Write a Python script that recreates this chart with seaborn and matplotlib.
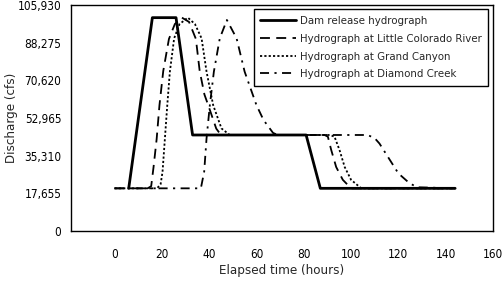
import matplotlib
matplotlib.use("Agg")
import matplotlib.pyplot as plt
import seaborn as sns
import pandas as pd

# ---- data (hours, cfs) ----
dam_t = [6, 16, 26, 33, 81, 87, 144]
dam_q = [20000, 100000, 100000, 45000, 45000, 20000, 20000]

lcr_t = [0, 14, 15.5, 16.5, 17.8, 19, 20.6, 23, 25.5, 28.5, 31.5, 34.4, 36, 38, 39.6, 43, 45,
         88.8, 90.2, 91.6, 93.7, 96.5, 100, 144]
lcr_q = [20000, 20000, 21000, 30000, 43000, 59000, 75000, 90000, 97000, 100000, 98000, 90000,
         75000, 64000, 59000, 48000, 45000,
         45000, 44200, 38000, 30000, 24000, 20000, 20000]

gc_t = [0, 18, 19.5, 20.3, 21.3, 22.3, 23.4, 25.2, 27.5, 31, 34, 36.8, 38.9, 41.7, 45.2, 48.7,
        91, 93, 95.1, 97.3, 100, 104.3, 144]
gc_q = [20000, 20000, 22000, 27800, 43400, 59000, 74700, 90300, 97000, 100000, 97000, 90300,
        74700, 59000, 48100, 45000,
        45000, 44200, 38000, 30000, 24000, 20000, 20000]

dc_t = [0, 36.5, 37.9, 38.9, 40.3, 42, 44.5, 47.5, 51.6, 55, 60, 63, 67, 69,
        107, 110, 112, 116, 120, 124.7, 128, 144]
dc_q = [20000, 20000, 27800, 43400, 59000, 74700, 90300, 98900, 90300, 74700, 59000, 52000,
        46000, 45000,
        45000, 43500, 41000, 34000, 27000, 22400, 20500, 20000]

labels = ["Dam release hydrograph", "Hydrograph at Little Colorado River",
          "Hydrograph at Grand Canyon", "Hydrograph at Diamond Creek"]

x_ticks = [0, 20, 40, 60, 80, 100, 120, 140, 160]
y_ticks = [0, 17655, 35310, 52965, 70620, 88275, 105930]
y_ticklabels = ["0", "17,655", "35,310", "52,965", "70,620", "88,275", "105,930"]

# ---- style ----
sns.set_style("white")
plt.rcParams["font.family"] = ["Liberation Sans Narrow", "DejaVu Sans"]
plt.rcParams["font.stretch"] = "condensed"

fig = plt.figure(figsize=(5.04, 2.84), dpi=100)
ax = fig.add_axes([71 / 504, 1 - 231 / 284, 422 / 504, 226 / 284])

series = [(dam_t, dam_q), (lcr_t, lcr_q), (gc_t, gc_q), (dc_t, dc_q)]
styles = [dict(linewidth=2.0, linestyle="-"),
          dict(linewidth=1.3, linestyle=(0, (5.5, 3.5))),
          dict(linewidth=1.3, linestyle=(0, (1.2, 1.2))),
          dict(linewidth=1.3, linestyle=(0, (5, 3, 1.2, 3)))]

for (t, q), lab, st in zip(series, labels, styles):
    df = pd.DataFrame({"t": t, "q": q})
    sns.lineplot(data=df, x="t", y="q", ax=ax, color="black", label=lab,
                 sort=False, estimator=None, **st)

ax.set_xlim(-18.4, 160)
ax.set_ylim(0, 105930)
ax.set_xticks(x_ticks)
ax.set_xticklabels([str(v) for v in x_ticks])
ax.set_yticks(y_ticks)
ax.set_yticklabels(y_ticklabels)

for s in ax.spines.values():
    s.set_visible(True)
    s.set_color("black")
    s.set_linewidth(1.0)

ax.tick_params(axis="both", which="major", direction="out", length=4, width=1,
               color="black", labelsize=8.5, labelcolor="black", pad=3)
ax.tick_params(axis="x", pad=8)

ax.set_xlabel("Elapsed time (hours)", fontsize=9.5)
ax.set_ylabel("Discharge (cfs)", fontsize=9.5)
ax.xaxis.set_label_coords(0.5, (231 - 264) / 226)
ax.yaxis.set_label_coords((18 - 71) / 422, 0.5)

leg = ax.legend(loc="upper right", bbox_to_anchor=(0.988, 0.981), borderaxespad=0,
                fontsize=8.2, frameon=True, fancybox=False, framealpha=1,
                handlelength=3.2, handletextpad=0.3, labelspacing=0.7,
                borderpad=0.55)
leg.get_frame().set_edgecolor("black")
leg.get_frame().set_linewidth(1.0)

fig.savefig("out.png", dpi=100)
